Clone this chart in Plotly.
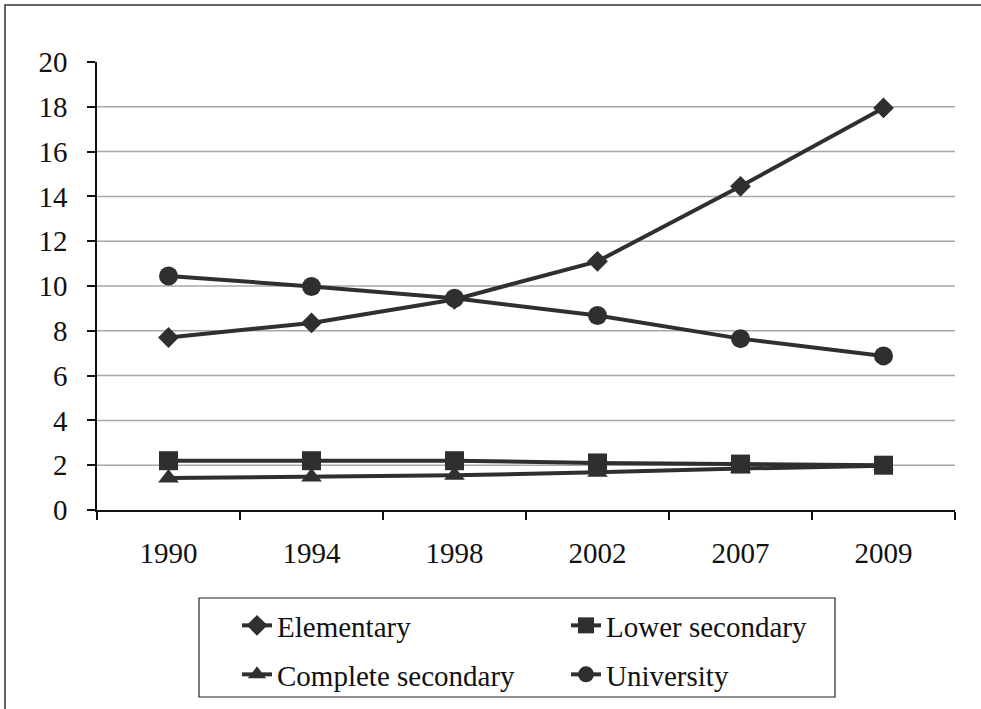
import plotly.graph_objects as go

years = ["1990", "1994", "1998", "2002", "2007", "2009"]
elementary = [7.7, 8.35, 9.4, 11.1, 14.45, 17.95]
lower_secondary = [2.2, 2.2, 2.2, 2.1, 2.05, 2.0]
complete_secondary = [1.43, 1.47, 1.55, 1.68, 1.85, 1.97]
university = [10.45, 9.98, 9.45, 8.68, 7.65, 6.88]

y_ticks = [0, 2, 4, 6, 8, 10, 12, 14, 16, 18, 20]
grid_vals = [2, 4, 6, 8, 10, 12, 14, 16, 18]

LINE = "#2f2f2f"
FONT = "Liberation Serif, Times New Roman, serif"

W, H = 981, 709
L, R, T, B = 97, 26, 62, 199
pw, ph = W - L - R, H - T - B


def px_x(p):
    return (p - L) / pw


def px_y(p):
    return (H - B - p) / ph


fig = go.Figure()

series = [
    ("Elementary", elementary, "diamond", 16, "legend"),
    ("Lower secondary", lower_secondary, "square", 19, "legend"),
    ("Complete secondary", complete_secondary, "triangle-up", 18, "legend2"),
    ("University", university, "circle", 19, "legend2"),
]

shapes = []
for g in grid_vals:
    shapes.append(dict(type="line", xref="paper", yref="y", x0=0, x1=1, y0=g, y1=g,
                       line=dict(color="#a8a8a8", width=1.5), layer="below"))

for name, vals, sym, sz, lg in series:
    fig.add_trace(go.Scatter(
        x=years, y=vals, name=name, mode="lines+markers",
        line=dict(color=LINE, width=4),
        marker=dict(symbol=sym, size=sz, color=LINE),
        legend=lg,
    ))

# y-axis line extension below the x axis
shapes.append(dict(type="line", xref="paper", yref="paper", x0=0, x1=0,
                   y0=0, y1=px_y(519), line=dict(color="#111111", width=1.5)))
# legend frame
shapes.append(dict(type="rect", xref="paper", yref="paper",
                   x0=px_x(199), x1=px_x(835), y0=px_y(697), y1=px_y(598),
                   line=dict(color="#222222", width=1.2), fillcolor="rgba(0,0,0,0)"))
# outer chart frame (left & top visible)
shapes.append(dict(type="rect", xref="paper", yref="paper",
                   x0=px_x(5), x1=px_x(1000), y0=px_y(730), y1=px_y(5),
                   line=dict(color="#333333", width=1.5), fillcolor="rgba(0,0,0,0)"))

legend_common = dict(
    orientation="h", xanchor="left", yanchor="top",
    xref="container", yref="container",
    font=dict(family=FONT, size=29, color="#111111"),
    bgcolor="rgba(0,0,0,0)", borderwidth=0,
    entrywidth=284, entrywidthmode="pixels",
)

fig.update_layout(
    width=W, height=H,
    margin=dict(l=L, r=R, t=T, b=B, autoexpand=False),
    paper_bgcolor="white", plot_bgcolor="white",
    showlegend=True,
    legend=dict(x=237 / W, y=1 - 600 / H, **legend_common),
    legend2=dict(x=237 / W, y=1 - 649 / H, **legend_common),
    xaxis=dict(
        type="category", range=[-0.5, len(years) - 0.5],
        showgrid=False, showline=True, linecolor="#111111", linewidth=2,
        ticks="outside", ticklen=8, tickcolor="#111111", tickwidth=1.5, tickson="boundaries",
        tickfont=dict(family=FONT, size=29, color="#111111"), ticklabelstandoff=16,
        zeroline=False,
    ),
    yaxis=dict(
        range=[0, 20], tickvals=y_ticks, showgrid=False, showline=True,
        linecolor="#111111", linewidth=1.5, ticks="outside", ticklen=8,
        tickcolor="#111111", tickwidth=1.5,
        tickfont=dict(family=FONT, size=29, color="#111111"), ticklabelstandoff=14,
        zeroline=False,
    ),
    shapes=shapes,
)

fig.write_html("out.html", config={"displayModeBar": False},
               post_script="document.body.style.margin='0';")
